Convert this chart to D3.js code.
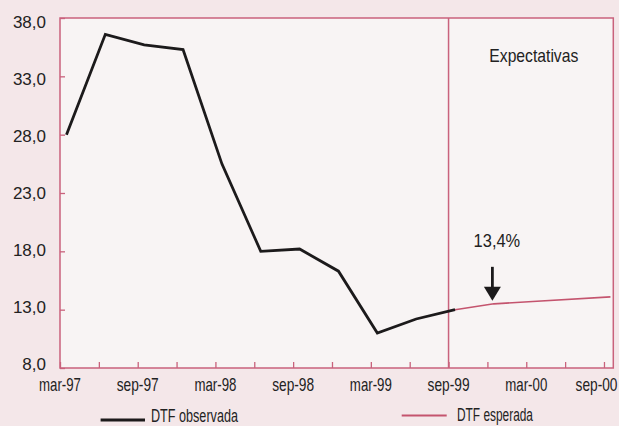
<!DOCTYPE html>
<html>
<head>
<meta charset="utf-8">
<script src="https://cdn.jsdelivr.net/npm/d3@7"></script>
<style>
  html, body { margin: 0; padding: 0; background: #f4e7e9; }
  svg { display: block; }
  text { font-family: "Liberation Sans", Arial, sans-serif; fill: #222; }
</style>
</head>
<body>
<svg id="chart" width="619" height="426"></svg>
<script>
// ---- data ----
const observedPeriods = ["1997-03","1997-06","1997-09","1997-12","1998-03","1998-06","1998-09","1998-12","1999-03","1999-06","1999-09"];
const observedValues  = [28.0, 36.6, 35.7, 35.3, 25.5, 18.0, 18.2, 16.3, 11.0, 12.2, 13.0];
const expectedPeriods = ["1999-09","1999-12","2000-03","2000-09"];
const expectedValues  = [13.0, 13.5, 13.7, 14.1];
const yTicks = [8, 13, 18, 23, 28, 33, 38];
const xTickLabels = ["mar-97","jun-97","sep-97","dec-97","mar-98","jun-98","sep-98","dec-98","mar-99","jun-99","sep-99","dec-99","mar-00","jun-00","sep-00"];
const xLabelShown = ["mar-97","sep-97","mar-98","sep-98","mar-99","sep-99","mar-00","sep-00"];
const dividerPeriod = "sep-99";
const annotationPeriod = "1999-12";
const annotationText = "13,4%";
const regionLabel = "Expectativas";
const seriesNames = ["DTF observada", "DTF esperada"];

// ---- helpers ----
const monthNames = {mar:3, jun:6, sep:9, dec:12};
const monthIndexFromPeriod = p => { const [y, m] = p.split("-").map(Number); return (y - 1997) * 12 + (m - 3) + 0.5; };
const monthIndexFromLabel = l => { const [mn, yy] = l.split("-"); const y = 1900 + (+yy < 50 ? +yy + 100 : +yy); return (y - 1997) * 12 + (monthNames[mn] - 3); };
const fmt = v => v.toFixed(1).replace(".", ",");

// condensed text: draw at natural size, then squeeze horizontally to target width
function condensedText(parent, str, cx, baseline, size, width, anchor) {
  const g = parent.append("g");
  const t = g.append("text").attr("font-size", size).attr("text-anchor", anchor || "middle").text(str);
  const nat = t.node().getComputedTextLength();
  const s = width / nat;
  g.attr("transform", `translate(${cx},${baseline}) scale(${s},1)`);
  return g;
}

// ---- layout ----
const W = 619;
const svg = d3.select("#chart");
const L = 60, T = 18, R = 613.3, B = 368;
const pink = "#c9627c", red = "#c4546e";

const x = d3.scaleLinear().domain([0, 42.72]).range([L, R]);
const y = d3.scaleLinear().domain([8, 38]).range([B, T]);
const yLabel = d3.scaleLinear().domain([8, 38]).range([B - 4.3, T + 3.7]);

svg.append("rect").attr("x", L).attr("y", T).attr("width", R - L).attr("height", B - T)
  .attr("fill", "#f8f4f4");

// x axis ticks (inward)
const xAxis = d3.axisBottom(x)
  .tickValues(xTickLabels.map(monthIndexFromLabel))
  .tickSizeInner(-6).tickSizeOuter(0)
  .tickFormat("");
const gx = svg.append("g").attr("transform", `translate(0,${B})`).call(xAxis);
gx.select(".domain").remove();
gx.selectAll(".tick line").attr("stroke", pink).attr("stroke-width", 1.3);

const xLabW = 42;
const gxl = svg.append("g");
xLabelShown.forEach(d => {
  const cx = Math.min(x(monthIndexFromLabel(d)), W - 1.5 - xLabW / 2);
  condensedText(gxl, d, cx, B + 23, 18, xLabW);
});

// y axis ticks (inward)
const yAxis = d3.axisLeft(y).tickValues(yTicks).tickSizeInner(-5).tickSizeOuter(0).tickFormat("");
const gy = svg.append("g").attr("transform", `translate(${L},0)`).call(yAxis);
gy.select(".domain").remove();
gy.selectAll(".tick line").attr("stroke", pink).attr("stroke-width", 1.3);

svg.append("g").selectAll("text").data(yTicks).join("text")
  .attr("x", 46)
  .attr("y", d => yLabel(d))
  .attr("dy", "0.36em")
  .attr("text-anchor", "end")
  .attr("font-size", 17)
  .text(d => fmt(d));

// frame
svg.append("rect").attr("x", L).attr("y", T).attr("width", R - L).attr("height", B - T)
  .attr("fill", "none").attr("stroke", pink).attr("stroke-width", 1.5);

// divider
const xd = x(monthIndexFromLabel(dividerPeriod));
svg.append("line").attr("x1", xd).attr("x2", xd).attr("y1", T).attr("y2", B)
  .attr("stroke", pink).attr("stroke-width", 1.5);

// lines
const line = d3.line().x(d => x(d[0])).y(d => y(d[1]));
const exp = expectedPeriods.map((p, i) => [monthIndexFromPeriod(p), expectedValues[i]]);
svg.append("path").datum(exp).attr("d", line)
  .attr("fill", "none").attr("stroke", red).attr("stroke-width", 1.6);
const obs = observedPeriods.map((p, i) => [monthIndexFromPeriod(p), observedValues[i]]);
svg.append("path").datum(obs).attr("d", line)
  .attr("fill", "none").attr("stroke", "#1c1a1b").attr("stroke-width", 2.8)
  .attr("stroke-linejoin", "miter");

// annotation arrow
const ai = expectedPeriods.indexOf(annotationPeriod);
const ax = x(monthIndexFromPeriod(annotationPeriod)) - 1.5;
const tipY = y(expectedValues[ai]) - 3;
svg.append("line").attr("x1", ax).attr("x2", ax).attr("y1", tipY - 34).attr("y2", tipY - 12)
  .attr("stroke", "#1c1a1b").attr("stroke-width", 2.8);
svg.append("path")
  .attr("d", `M${ax - 8.5},${tipY - 14} L${ax + 8.5},${tipY - 14} L${ax},${tipY} Z`)
  .attr("fill", "#1c1a1b");
condensedText(svg, annotationText, ax + 4.5, tipY - 53.5, 18, 46.6);
condensedText(svg, regionLabel, 533.8, 61.5, 18, 89);

// legend
const legend = [
  {name: seriesNames[0], color: "#1c1a1b", w: 2.8, x1: 100.6, x2: 145, ly: 420, tx: 151, ty: 422.3, tl: 87},
  {name: seriesNames[1], color: red, w: 2, x1: 401.7, x2: 446.7, ly: 415.5, tx: 457, ty: 421, tl: 76}
];
const lg = svg.append("g");
legend.forEach(d => {
  lg.append("line").attr("x1", d.x1).attr("x2", d.x2).attr("y1", d.ly).attr("y2", d.ly)
    .attr("stroke", d.color).attr("stroke-width", d.w);
  condensedText(lg, d.name, d.tx, d.ty, 17.5, d.tl, "start");
});
</script>
</body>
</html>
